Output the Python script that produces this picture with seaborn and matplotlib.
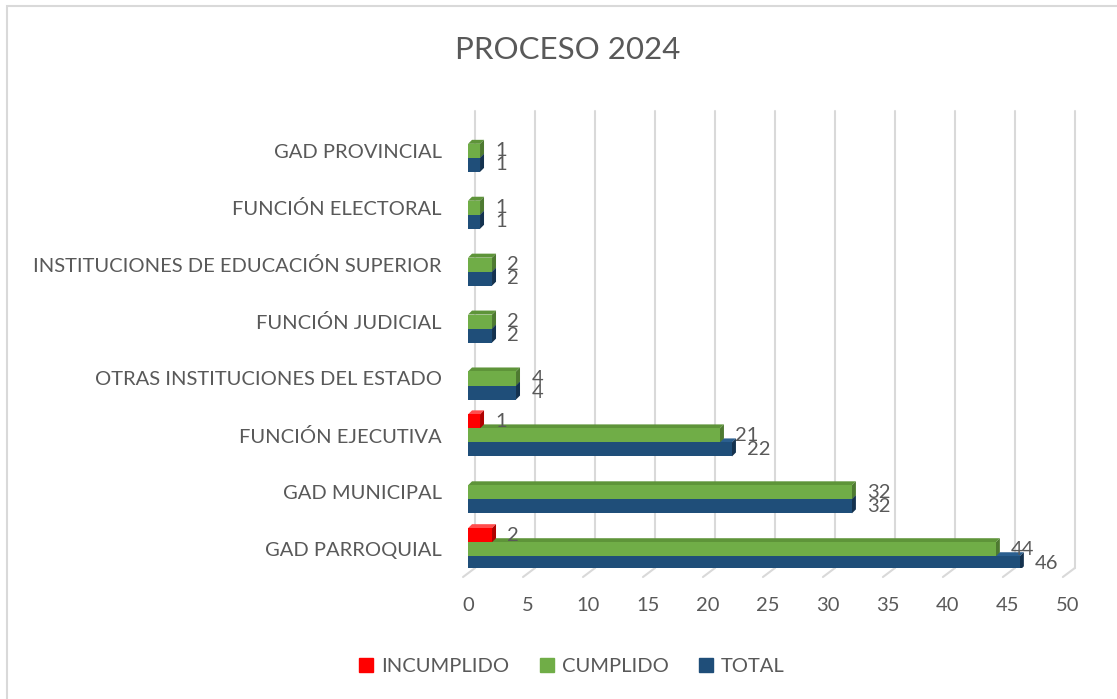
import pandas as pd
import numpy as np
import matplotlib.pyplot as plt
import matplotlib.transforms as mtransforms
from matplotlib.patches import Polygon, Rectangle
import seaborn as sns

##Chart values
categories = ["GAD PROVINCIAL", "FUNCIÓN ELECTORAL", "INSTITUCIONES DE EDUCACIÓN SUPERIOR",
              "FUNCIÓN JUDICIAL", "OTRAS INSTITUCIONES DEL ESTADO", "FUNCIÓN EJECUTIVA",
              "GAD MUNICIPAL", "GAD PARROQUIAL"]
incumplido = [0, 0, 0, 0, 0, 1, 0, 2]
cumplido = [1, 1, 2, 2, 4, 21, 32, 44]
total = [1, 1, 2, 2, 4, 22, 32, 46]
series = ["INCUMPLIDO", "CUMPLIDO", "TOTAL"]
x_ticks = [0, 5, 10, 15, 20, 25, 30, 35, 40, 45, 50]

colors = {"INCUMPLIDO": "#FF0000", "CUMPLIDO": "#70AD47", "TOTAL": "#1F4E79"}
side_colors = {"INCUMPLIDO": "#B00000", "CUMPLIDO": "#4E7A31", "TOTAL": "#14324F"}
top_colors = {"INCUMPLIDO": "#FF4D4D", "CUMPLIDO": "#5E9439", "TOTAL": "#2B5F8F"}
text_col = "#595959"
fs = 14.5

df = pd.DataFrame({"Categoria": categories * 3,
                   "Estado": np.repeat(series, len(categories)),
                   "Valor": incumplido + cumplido + total})

sns.set_theme(style="white")
plt.rcParams['font.family'] = ['Lato', 'DejaVu Sans']

fig = plt.figure(figsize=(11.17, 6.99), dpi=100)
ax = fig.add_axes([0.419, 0.1874, 0.537, 0.6538])

sns.barplot(data=df, y="Categoria", x="Valor", hue="Estado", hue_order=series,
            order=categories, palette=colors, saturation=1, width=0.74,
            orient="h", ax=ax, zorder=3, linewidth=0, edgecolor="none")

ax.set_xlim(0, 50)
ax.set_ylim(7.33, -0.70)
ax.set_xticks(x_ticks)
ax.set_xlabel("")
ax.set_ylabel("")
for s in ax.spines.values():
    s.set_visible(False)
ax.tick_params(axis='x', length=0, pad=21, labelsize=fs, labelcolor=text_col)
ax.tick_params(axis='y', length=0, pad=19, labelsize=fs, labelcolor=text_col)

##3D look: end caps and top faces on each bar
dx = 4 / 12.0
dy = 4 / 57.0
for name, cont in zip(series, ax.containers):
    for p in cont.patches:
        x, y, w, h = p.get_x(), p.get_y(), p.get_width(), p.get_height()
        if w <= 0:
            continue
        top = Polygon([(x, y), (x + w, y), (x + w + dx, y - dy), (x + dx, y - dy)],
                      closed=True, facecolor=top_colors[name], edgecolor='none', zorder=2)
        side = Polygon([(x + w, y), (x + w + dx, y - dy), (x + w + dx, y + h - dy), (x + w, y + h)],
                       closed=True, facecolor=side_colors[name], edgecolor='none', zorder=2.5)
        ax.add_patch(top)
        ax.add_patch(side)

##Data labels, zero values left out
for cont in ax.containers:
    labs = [f"{v:g}" if v > 0 else "" for v in cont.datavalues]
    ax.bar_label(cont, labels=labs, padding=11, fontsize=fs, color=text_col)

##Gridlines on the back wall plus slanted floor lines
back = mtransforms.blended_transform_factory(ax.transData, ax.transAxes) + \
    mtransforms.ScaledTranslation(7 / 100, 0, fig.dpi_scale_trans)
base = mtransforms.blended_transform_factory(ax.transData, ax.transAxes)
for t in x_ticks:
    ax.plot([t, t], [0, 1], color="#d9d9d9", lw=1.5, transform=back, zorder=0, clip_on=False)
    p0 = back.transform((t, 0))
    p1 = base.transform((t, 0)) + np.array([-5, -9])
    fig.add_artist(plt.Line2D([p0[0], p1[0]], [p0[1], p1[1]], color="#d9d9d9", lw=1.5,
                              transform=None, zorder=0))

ax.get_legend().remove()
handles = [Rectangle((0, 0), 1, 1, color=colors[s]) for s in series]
fig.legend(handles, series, loc="center", bbox_to_anchor=(0.512, 0.047), ncol=3,
           frameon=False, fontsize=fs, labelcolor=text_col, handlelength=0.7,
           handleheight=0.7, handletextpad=0.4, columnspacing=1.5)

fig.text(0.508, 0.928, "PROCESO 2024", ha="center", va="center", fontsize=22.5, color=text_col)

fig.add_artist(Rectangle((7 / 1117, -0.1), 1.2, 1 - 6 / 699 + 0.1, transform=fig.transFigure,
                         fill=False, edgecolor="#d9d9d9", lw=1.5))

fig.savefig("out.png", dpi=100)
